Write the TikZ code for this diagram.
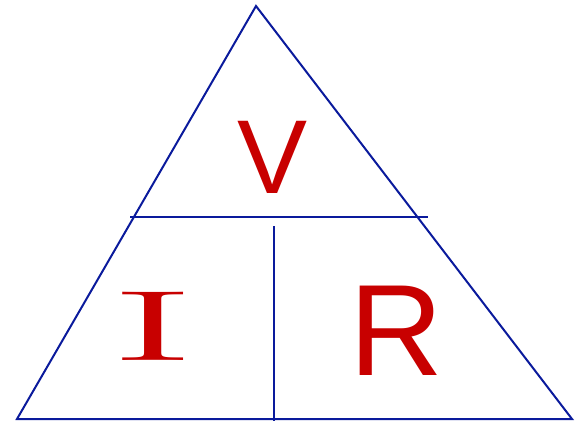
\documentclass[tikz,border=0pt]{standalone}
\usepackage{fontspec}
\newfontfamily\letterfont{Liberation Sans}
\usetikzlibrary{positioning}
\definecolor{lineblue}{HTML}{0A1A9C}
\definecolor{letterred}{HTML}{C80000}

\begin{document}
\begin{tikzpicture}[x=1pt, y=-1pt,
  edge/.style={lineblue, line width=2pt, line join=miter},
  letter/.style={letterred, inner sep=0pt, anchor=center}
]
  \useasboundingbox (0,0) rectangle (584,423);

  % Corners and dividers
  \coordinate (apex) at (256,6);
  \coordinate (left) at (17,419);
  \coordinate (right) at (572,419);
  \coordinate (barl) at (130,217);
  \coordinate (barr) at (428,217);
  \coordinate (midt) at (274,226);
  \coordinate (midb) at (274,421);

  \draw[edge] (apex) -- (right) -- (left) -- cycle;
  \draw[edge] (barl) -- (barr);
  \draw[edge] (midt) -- (midb);

  % Letters
  \node[letter, font=\letterfont\fontsize{105}{105}\selectfont] (volt) at (273,157) {V};
  \node[letter, font=\fontsize{100}{100}\selectfont] (amp) at (153,326) {\scalebox{2.6}[1]{I}};
  \node[letter, font=\letterfont\fontsize{130}{130}\selectfont] (ohm) at (396,331) {R};
\end{tikzpicture}
\end{document}
